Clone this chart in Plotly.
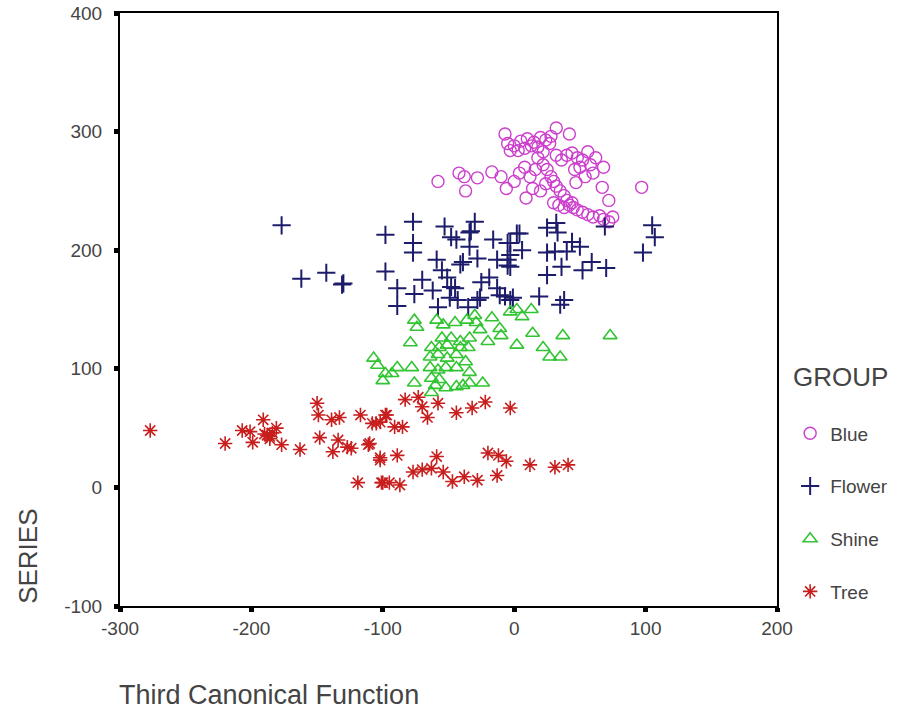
import plotly.graph_objects as go

# ---- data ----
blue_x = [-7, 32, 42, -5, 0, 5, 10, 15, 20, 24, 28, -3, 3, 8, 13, 18, 22, 27,
          -58, -42, -38, -28, -37, -17, -10, -6, 0, 4, 8, 12, 16, 9,
          18, 22, 25, 28, 30, 32, 35, 38, 40, 42, 45, 48, 52, 56, 60, 65, 68, 72, 75, 30, 34, 38, 44, 20, 24, 14,
          32, 36, 40, 44, 48, 52, 56, 58, 62, 50, 46, 60, 54,
          47, 67, 97, 72, 68]
blue_y = [298, 303, 298, 290, 288, 292, 294, 291, 295, 293, 296, 284, 284, 286, 288, 287, 283, 290,
          258, 265, 262, 261, 250, 266, 262, 252, 258, 265, 270, 262, 268, 244,
          278, 272, 268, 262, 258, 254, 250, 246, 242, 238, 236, 234, 232, 230, 228, 229, 226, 224, 228, 240, 238, 236, 240, 250, 256, 252,
          280, 276, 280, 282, 278, 276, 283, 272, 278, 270, 268, 265, 262,
          257, 253, 253, 242, 270]

flower_x = [-177, -162, -143, -131, -130, -98, -98, -77, -77, -77, -89, -89, -76, -70, -62, -59, -55, -51, -48, -45,
            -49, -43, -58, -35, -28, -26, -53, -48, -44, -34, -33, -30, -34, -41, -39, -28, -16, -13, -5, -5, -3,
            -25, -19, -13, -7, -3, 2,
            4, -3, 6, -3, -5, 25, 32, 33, 69, 25, 31, 40, 44, 50, 25, 36, 52, 59, 70, 105, 107, 98, 19, 35, 38, -11, -1]
flower_y = [221, 176, 181, 171, 172, 213, 182, 224, 206, 198, 168, 153, 163, 175, 166, 192, 183, 177, 169, 168,
            160, 158, 152, 152, 158, 160, 220, 211, 209, 215, 216, 224, 203, 188, 190, 193, 209, 192, 206, 192, 186,
            173, 177, 168, 161, 158, 214,
            214, 206, 200, 196, 187, 219, 223, 215, 220, 198, 199, 199, 207, 203, 179, 186, 183, 190, 185, 221, 211, 198, 161, 154, 158, 162, 160]

shine_x = [-76, -74, -59, -54, -45, -36, -30, -29, -17, -3, 2, 6, 13,
           -55, -48, -41, -34, -26, -20, -11, -10, 14, 37, 73, 2, 22, 27, 35,
           -63, -57, -51, -41, -35, -64, -58, -51, -44, -37,
           -107, -104, -98, -93, -89, -78, -100, -76, -64, -58, -52, -44,
           -63, -60, -63, -52, -44, -39, -34, -24, -57, -34, -79]
shine_y = [141, 135, 141, 137, 139, 141, 145, 139, 143, 148, 150, 144, 150,
           126, 126, 123, 126, 133, 123, 134, 128, 130, 128, 128, 120, 118, 110, 110,
           118, 118, 120, 118, 118, 110, 112, 109, 112, 106,
           109, 103, 96, 96, 101, 101, 90, 88, 101, 99, 101, 101,
           92, 86, 80, 84, 85, 86, 88, 88, 91, 97, 122]

tree_x = [-277, -220, -207, -201, -199, -191, -186, -188, -184, -181, -177, -163, -150, -149, -148, -139, -133, -138,
          -134, -127, -124, -117, -111, -108, -102, -98, -102, -119, -100,
          -83, -73, -70, -66, -58, -44, -32, -22, -3, -97, -105, -91, -85, -102, -89, -59, -77, -70, -63, -54, -47,
          -38, -28, -13, -20, -12, -6, 12, 31, 41, -101, -95, -87, -110, -186, -190]
tree_y = [48, 37, 48, 47, 38, 57, 43, 44, 46, 50, 36, 32, 71, 61, 42, 57, 59, 30,
          40, 34, 33, 61, 36, 54, 55, 61, 23, 4, 4,
          74, 76, 68, 59, 71, 63, 67, 72, 67, 61, 54, 51, 51, 25, 27, 26, 13, 15, 16, 13, 5,
          9, 6, 10, 29, 27, 22, 19, 17, 19, 4, 4, 2, 37, 41, 45]

x_ticks = [-300, -200, -100, 0, 100, 200]
x_tick_labels = ["-300", "-200", "-100", "0", "100", "200"]
y_ticks = [-100, 0, 100, 200, 300, 400]
y_tick_labels = ["-100", "0", "100", "200", "300", "400"]

FONT = "Arial, Liberation Sans, sans-serif"
TXT = "#444"

fig = go.Figure()
fig.add_trace(go.Scatter(x=blue_x, y=blue_y, mode="markers", name="Blue", legendgroup="a",
                         marker=dict(symbol="circle-open", size=12, color="#cc3fcc", line=dict(width=1.4))))
fig.add_trace(go.Scatter(x=flower_x, y=flower_y, mode="markers", name="Flower", legendgroup="b",
                         marker=dict(symbol="cross-thin-open", size=13, color="#1c1c6a", line=dict(width=2))))
fig.add_trace(go.Scatter(x=shine_x, y=shine_y, mode="markers", name="Shine", legendgroup="c",
                         marker=dict(symbol="triangle-up-open", size=12, color="#33c433", line=dict(width=1.6))))
fig.add_trace(go.Scatter(x=tree_x, y=tree_y, mode="markers", name="Tree", legendgroup="d",
                         marker=dict(symbol="asterisk-open", size=12, color="#c81e1e", line=dict(width=1.6))))

axis_common = dict(showgrid=False, zeroline=False, showline=True, linecolor="black", linewidth=2,
                   mirror=True, ticks="outside", ticklen=4, tickwidth=5, tickcolor="black",
                   automargin=False, tickfont=dict(family=FONT, size=19, color=TXT))

fig.update_xaxes(range=[-300, 200], tickvals=x_ticks, ticktext=x_tick_labels, ticklabelstandoff=0, **axis_common)
fig.update_yaxes(range=[-100, 400], tickvals=y_ticks, ticktext=y_tick_labels, ticklabelstandoff=8, **axis_common)

fig.update_layout(
    width=902, height=711,
    margin=dict(l=120, r=125, t=13, b=105, autoexpand=False),
    plot_bgcolor="white", paper_bgcolor="white",
    font=dict(family=FONT, color=TXT),
    showlegend=True,
    legend=dict(x=1.02, xanchor="left", y=0.323, yanchor="top",
                font=dict(size=19, color=TXT), tracegroupgap=25, traceorder="grouped",
                bgcolor="rgba(0,0,0,0)"),
    annotations=[
        dict(text="GROUP", xref="paper", yref="paper", x=1.022, y=0.386,
             xanchor="left", yanchor="middle", showarrow=False,
             font=dict(family=FONT, size=26, color=TXT)),
        dict(text="Third Canonical Function", xref="paper", yref="paper", x=-0.004, y=-0.122,
             xanchor="left", yanchor="top", showarrow=False,
             font=dict(family=FONT, size=27, color=TXT)),
        dict(text="SERIES", xref="paper", yref="paper", x=-0.141, y=0.0,
             xanchor="center", yanchor="bottom", textangle=-90, showarrow=False,
             font=dict(family=FONT, size=26, color=TXT)),
    ],
)

fig.write_html("out.html", config={"displayModeBar": False},
               post_script="document.body.style.margin='0';document.body.style.overflow='hidden';")
